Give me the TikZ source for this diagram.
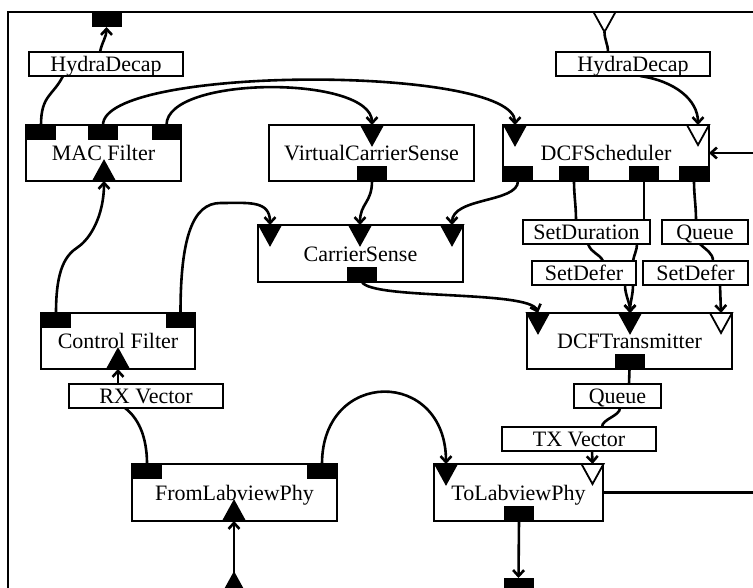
\documentclass[tikz,border=0pt]{standalone}
\usepackage{fontspec}
\setmainfont{Liberation Serif}
\usetikzlibrary{arrows.meta,calc}
\pgfdeclarelayer{background}
\pgfsetlayers{background,main}
\tikzset{
  boxtxt/.style={font=\fontsize{22}{26}\selectfont, text height=15pt, text depth=0pt},
  blk/.style={boxtxt, draw, line width=2pt, fill=white, inner sep=0pt, outer sep=0pt, anchor=north west, minimum height=56pt},
  lbl/.style={boxtxt, draw, line width=1.6pt, fill=white, inner sep=0pt, outer sep=0pt, anchor=north west, minimum height=24pt},
  port/.style={fill=black, inner sep=0pt, outer sep=0pt, minimum width=30pt, minimum height=15pt},
  wire/.style={line width=2.6pt},
  conn/.style={wire, -{Straight Barb[length=6pt,width=11pt]}},
  trip/.style={line width=1.8pt, line join=miter},
  frame/.style={line width=2pt},
}
\newcommand\TriDn[4]{%
  \coordinate (#1) at (#2,-#3);
  \coordinate (#1tip) at (#2,-#3-20);
  \draw[trip, fill=#4] (#2-11,-#3) -- (#2+11,-#3) -- (#2,-#3-20) -- cycle;}
\newcommand\TriUp[4]{%
  \coordinate (#1) at (#2,-#3);
  \coordinate (#1tip) at (#2,-#3+20);
  \draw[trip, fill=#4] (#2-11,-#3) -- (#2+11,-#3) -- (#2,-#3+20) -- cycle;}
\begin{document}
\begin{tikzpicture}[x=1pt,y=1pt]
\useasboundingbox (0,0) rectangle (753,-587);
% ---------- blocks ----------
\node[blk, minimum width=155pt] (mac) at (26,-125) {MAC Filter};
\node[blk, minimum width=205pt] (vcs) at (269,-125) {VirtualCarrierSense};
\node[blk, minimum width=206pt] (dcfs) at (503,-125) {DCFScheduler};
\node[blk, minimum width=205pt, minimum height=57pt] (cs) at (258,-225) {CarrierSense};
\node[blk, minimum width=154pt] (cf) at (41,-313) {Control Filter};
\node[blk, minimum width=205pt] (dcft) at (527,-313) {DCFTransmitter};
\node[blk, minimum width=205pt, minimum height=57pt] (froml) at (132,-464) {FromLabviewPhy};
\node[blk, minimum width=169pt, minimum height=57pt] (tol) at (434,-464) {ToLabviewPhy};
% ---------- output ports ----------
\node[port, anchor=north] (frametop) at (106.5,-12) {};
\node[port, anchor=north] (macp1) at (41,-125) {};
\node[port, anchor=north] (macp2) at (103,-125) {};
\node[port, anchor=north] (macp3) at (166.5,-125) {};
\node[port, anchor=south] (vcsout) at (372,-181) {};
\node[port, anchor=south] (dcfsp1) at (518,-181) {};
\node[port, anchor=south] (dcfsp2) at (574,-181) {};
\node[port, anchor=south] (dcfsp3) at (644,-181) {};
\node[port, anchor=south] (dcfsp4) at (694,-181) {};
\node[port, anchor=south] (csout) at (362,-282) {};
\node[port, anchor=north] (cfp1) at (56,-313) {};
\node[port, anchor=north] (cfp2) at (180.5,-313) {};
\node[port, anchor=south] (dcftout) at (629.5,-369) {};
\node[port, anchor=north] (fromp1) at (147,-464) {};
\node[port, anchor=north] (fromp2) at (322,-464) {};
\node[port, anchor=south] (tolout) at (519,-521) {};
\node[port, anchor=south] (framebot) at (518.5,-593) {};
% ---------- input ports ----------
\TriDn{framein}{604.5}{12}{white}
\TriDn{vcsin}{372}{125}{black}
\TriDn{dcfsin1}{515}{125}{black}
\TriDn{dcfsin2}{698}{125}{white}
\TriDn{csin1}{270}{225}{black}
\TriDn{csin2}{360}{225}{black}
\TriDn{csin3}{452}{225}{black}
\TriDn{dcftin1}{538}{313}{black}
\TriDn{dcftin2}{630}{313}{black}
\TriDn{dcftin3}{721}{313}{white}
\TriDn{tolin1}{446}{464}{black}
\TriDn{tolin2}{592.5}{464}{white}
\TriUp{macin}{104}{181}{black}
\TriUp{cfin}{118}{369}{black}
\TriUp{fromin}{234}{521}{black}
\TriUp{framebotin}{234}{593}{black}
% ---------- connector labels ----------
\node[lbl, minimum width=154pt] (hd1) at (29,-52) {HydraDecap};
\node[lbl, minimum width=154pt] (hd2) at (556,-52) {HydraDecap};
\node[lbl, minimum width=127pt] (setdur) at (523,-220) {SetDuration};
\node[lbl, minimum width=86pt] (queue1) at (662,-220) {Queue};
\node[lbl, minimum width=104pt] (setdef1) at (532,-261) {SetDefer};
\node[lbl, minimum width=105pt] (setdef2) at (643,-261) {SetDefer};
\node[lbl, minimum width=154pt] (rx) at (69,-384) {RX Vector};
\node[lbl, minimum width=87pt] (queue2) at (574,-384) {Queue};
\node[lbl, minimum width=154pt] (tx) at (502,-427) {TX Vector};
\coordinate (rightin) at (780,-153);
\coordinate (rightout) at (780,-492.5);
% ---------- frame and connectors ----------
\begin{pgfonlayer}{background}
\draw[frame] (8,-12) rectangle (780,-593);
% MAC Filter -> HydraDecap -> out
\draw[wire] (macp1.north) .. controls +(0,30) and +(-10,-20) .. ($(hd1.south west)+(34,0)$);
\draw[conn] ($(hd1.north west)+(71,0)$) .. controls +(2,10) and +(0,-10) .. (frametop.south);
\draw[conn] (macp2.north) .. controls +(0,60) and +(0,60) .. (dcfsin1);
\draw[conn] (macp3.north) .. controls +(0,50) and +(0,50) .. (vcsin);
% Control Filter
\draw[conn] (cfp1.north) .. controls +(0,45) and +(-12,-8) .. ++(22,66) .. controls +(12,8) and +(0,-35) .. (macin);
\draw[conn] (cfp2.north) .. controls +(0,75) and +(-28,0) .. ++(40,110) .. controls +(28,0) and +(0,25) .. (csin1);
% to CarrierSense
\draw[conn] (vcsout.south) .. controls +(0,-22) and +(0,22) .. (csin2);
\draw[conn] (dcfsp1.south) .. controls +(0,-22) and +(0,28) .. (csin3);
\draw[conn] (csout.south) .. controls +(10,-18) and +(-8,23) .. (dcftin1);
% DCFScheduler -> DCFTransmitter
\draw[wire] (dcfsp2.south) .. controls +(0,-15) and +(0,15) .. ($(setdur.north west)+(53,0)$);
\draw[wire] ($(setdur.south west)+(65,0)$) .. controls +(4,-10) and +(-4,8) .. ($(setdef1.north west)+(71,0)$);
\draw[conn] ($(setdef1.south west)+(93,0)$) .. controls +(0,-10) and +(0,10) .. (dcftin2);
\draw[wire] (dcfsp3.south) -- ($(setdur.north west)+(121,0)$);
\draw[wire] ($(setdur.south west)+(114,0)$) .. controls +(0,-6) and +(1,6) .. ($(setdef1.north west)+(101,0)$);
\draw[conn] ($(setdef1.south west)+(101,0)$) .. controls +(0,-10) and +(0,10) .. (dcftin2);
\draw[wire] (dcfsp4.south) .. controls +(0,-15) and +(0,15) .. ($(queue1.north west)+(34,0)$);
\draw[wire] ($(queue1.south west)+(38,0)$) .. controls +(6,-6) and +(0,8) .. ($(setdef2.north west)+(70,0)$);
\draw[conn] ($(setdef2.south west)+(77,0)$) -- (dcftin3);
% DCFTransmitter -> ToLabviewPhy
\draw[wire] (dcftout.south) -- ($(queue2.north west)+(55,0)$);
\draw[wire] ($(queue2.south west)+(46,0)$) .. controls +(0,-8) and +(0,8) .. ($(tx.north west)+(100,0)$);
\draw[conn] ($(tx.south west)+(90,0)$) -- (tolin2);
% FromLabviewPhy
\draw[conn] (fromp2.north) .. controls +(0,96) and +(0,96) .. (tolin1);
\draw[wire] (fromp1.north) .. controls +(0,35) and +(8,-6) .. ($(rx.south west)+(56,0)$);
\draw[conn] ($(rx.north west)+(49,0)$) -- (cfin);
% frame ports
\draw[conn] (framebotintip) -- (fromin);
\draw[conn] (tolout.south) -- (framebot.north);
\draw[wire] (tol.east) -- (rightout);
\draw[conn] (rightin) -- (dcfs.east);
\draw[wire] (frameintip) .. controls +(0,-8) and +(0,8) .. ($(hd2.north west)+(52,0)$);
\draw[conn] ($(hd2.south west)+(84,0)$) .. controls +(35,-5) and +(0,25) .. (dcfsin2);
\end{pgfonlayer}
\end{tikzpicture}
\end{document}
